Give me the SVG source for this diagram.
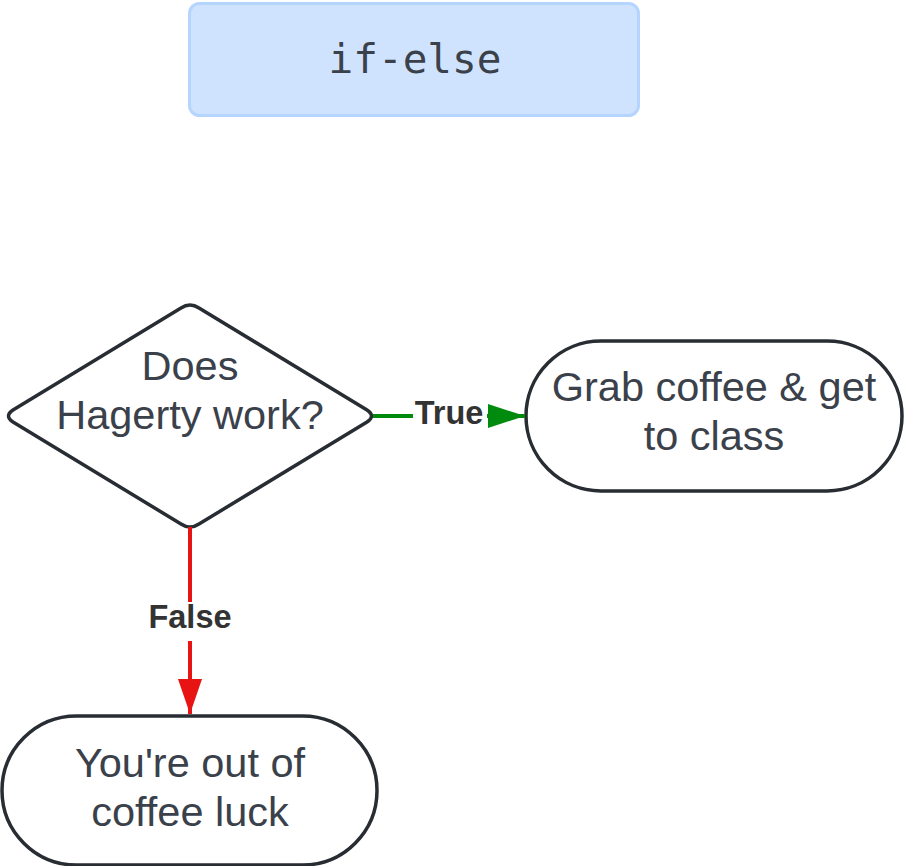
<svg xmlns="http://www.w3.org/2000/svg" width="904" height="866" viewBox="0 0 904 866">
<defs>
<style>
.node{fill:#ffffff;stroke:#282c33;stroke-width:3.5}
.t{font-family:"Liberation Sans",Arial,sans-serif;font-size:41.5px;fill:#3a414a;text-anchor:middle}
.lbl{font-family:"Liberation Sans",Arial,sans-serif;font-size:32.5px;font-weight:bold;fill:#333333;text-anchor:middle}
</style>
<marker id="ag" markerUnits="userSpaceOnUse" markerWidth="40" markerHeight="26" refX="37" refY="12" orient="auto"><path d="M0,0 L37,12 L0,24 Z" fill="#008a0e"/></marker>
<marker id="ar" markerUnits="userSpaceOnUse" markerWidth="40" markerHeight="26" refX="35" refY="12" orient="auto"><path d="M0,0 L35,12 L0,24 Z" fill="#e81414"/></marker>
</defs>
<rect width="904" height="866" fill="#ffffff"/>
<g id="title">
<rect x="189.5" y="3.5" width="449" height="112" rx="10" fill="#cfe3ff" stroke="#b5d5ff" stroke-width="3"/>
<text x="415" y="73" font-family="'DejaVu Sans Mono','Liberation Mono',monospace" font-size="41" fill="#3a414a" text-anchor="middle">if-else</text>
</g>
<g id="decision">
<path class="node" d="M181,308 Q190,302 199,308 L367,410 Q376,416 367,422 L199,524 Q190,530 181,524 L13,422 Q4,416 13,410 Z"/>
<text class="t" x="190" y="380">Does</text>
<text class="t" x="190" y="429">Hagerty work?</text>
</g>
<g id="true-end">
<rect class="node" x="526" y="341" width="376" height="150" rx="75"/>
<text class="t" x="714" y="401">Grab coffee &amp; get</text>
<text class="t" x="714" y="450">to class</text>
</g>
<g id="false-end">
<rect class="node" x="2" y="716" width="375" height="149" rx="74.5"/>
<text class="t" x="190" y="777">You're out of</text>
<text class="t" x="190" y="826">coffee luck</text>
</g>
<g id="connectors">
<path d="M373,416 L525,416" stroke="#008a0e" stroke-width="4" fill="none" marker-end="url(#ag)"/>
<rect x="413" y="398" width="74" height="34" fill="#ffffff"/>
<text class="lbl" x="449" y="424">True</text>
<path d="M190,527 L190,714" stroke="#e81414" stroke-width="4" fill="none" marker-end="url(#ar)"/>
<rect x="145" y="602" width="90" height="39" fill="#ffffff"/>
<text class="lbl" x="190" y="628">False</text>
</g>
</svg>
